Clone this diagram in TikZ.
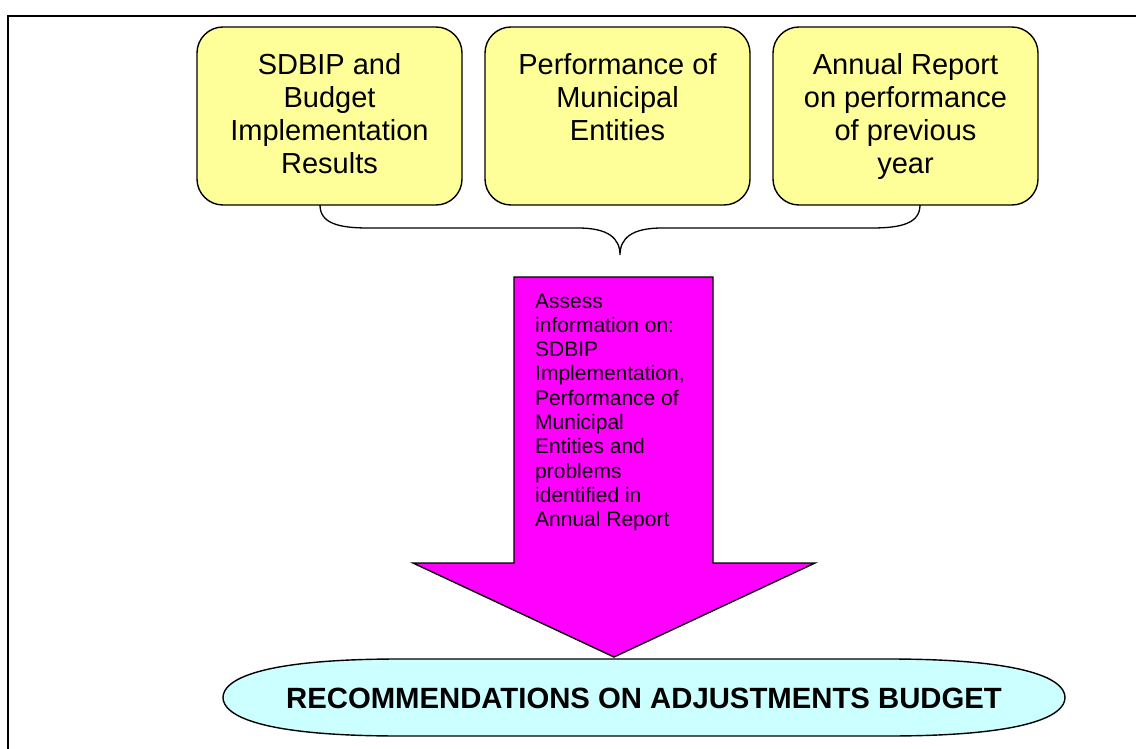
\documentclass[tikz,border=0pt]{standalone}
\usepackage{fontspec}
\setmainfont{Liberation Sans}
\definecolor{boxyellow}{HTML}{FFFF99}
\definecolor{lightcyan}{HTML}{CCFFFF}
\definecolor{arrowmag}{HTML}{FF00FF}
\tikzset{
  inputbox/.style={draw=black, line width=1.4pt, fill=boxyellow, rounded corners=26pt,
    inner sep=0pt, outer sep=0pt, font=\fontsize{29}{33}\selectfont},
  bracepath/.style={draw=black, line width=1.3pt},
  blockarrow/.style={draw=black, line width=1.4pt, fill=arrowmag},
  arrowtext/.style={inner sep=0pt, anchor=base west, font=\fontsize{21}{24.3}\selectfont},
  resultshape/.style={draw=black, line width=1.4pt, fill=lightcyan},
  resulttext/.style={inner sep=0pt, font=\fontsize{29.3}{33}\selectfont\bfseries},
  framepath/.style={draw=black, line width=2.8pt}
}
\newcommand{\boxtext}[1]{\parbox[c][178pt][t]{265pt}{\centering\rule{0pt}{48pt}#1}}
\begin{document}
\begin{tikzpicture}[x=1pt,y=-1pt]
\useasboundingbox (0,0) rectangle (1136,749);
\fill[white] (0,0) rectangle (1136,749);
% outer frame (only top and left visible)
\draw[framepath] (8,749) -- (8,16) -- (1136,16);
% input boxes
\node[inputbox] (b1) at (329.5,116) {\boxtext{SDBIP and\\Budget\\Implementation\\Results}};
\node[inputbox] (b2) at (617.5,116) {\boxtext{Performance of\\Municipal\\Entities}};
\node[inputbox] (b3) at (905.5,116) {\boxtext{Annual Report\\on performance\\of previous\\year}};
% brace
\coordinate (tip) at (620,255);
\draw[bracepath] ([xshift=-9.5pt]b1.south) .. controls (320,223) and (338,228) .. (368,228)
  -- (578,228) .. controls (608,228) and (620,238) .. (tip)
  .. controls (620,238) and (632,228) .. (662,228)
  -- (872,228) .. controls (902,228) and (920,223) .. ([xshift=14.5pt]b3.south);
% block arrow
\draw[blockarrow] (514,277) -- (713,277) -- (713,563) -- (815,563) -- (614,657)
  -- (413,563) -- (514,563) -- cycle;
\node[arrowtext] (atext) at (535,308) {\parbox[t]{200pt}{\raggedright Assess\\information on:\\SDBIP\\Implementation,\\Performance of\\Municipal\\Entities and\\problems\\identified in\\Annual Report}};
% result (flattened ellipse)
\draw[resultshape] (223,697.5) .. controls (223,680) and (258,659) .. (400,659)
  -- (888,659) .. controls (1030,659) and (1065,680) .. (1065,697.5)
  .. controls (1065,715) and (1030,736) .. (888,736)
  -- (400,736) .. controls (258,736) and (223,715) .. cycle;
\node[resulttext] (res) at (644,698) {RECOMMENDATIONS ON ADJUSTMENTS BUDGET};
\end{tikzpicture}
\end{document}
